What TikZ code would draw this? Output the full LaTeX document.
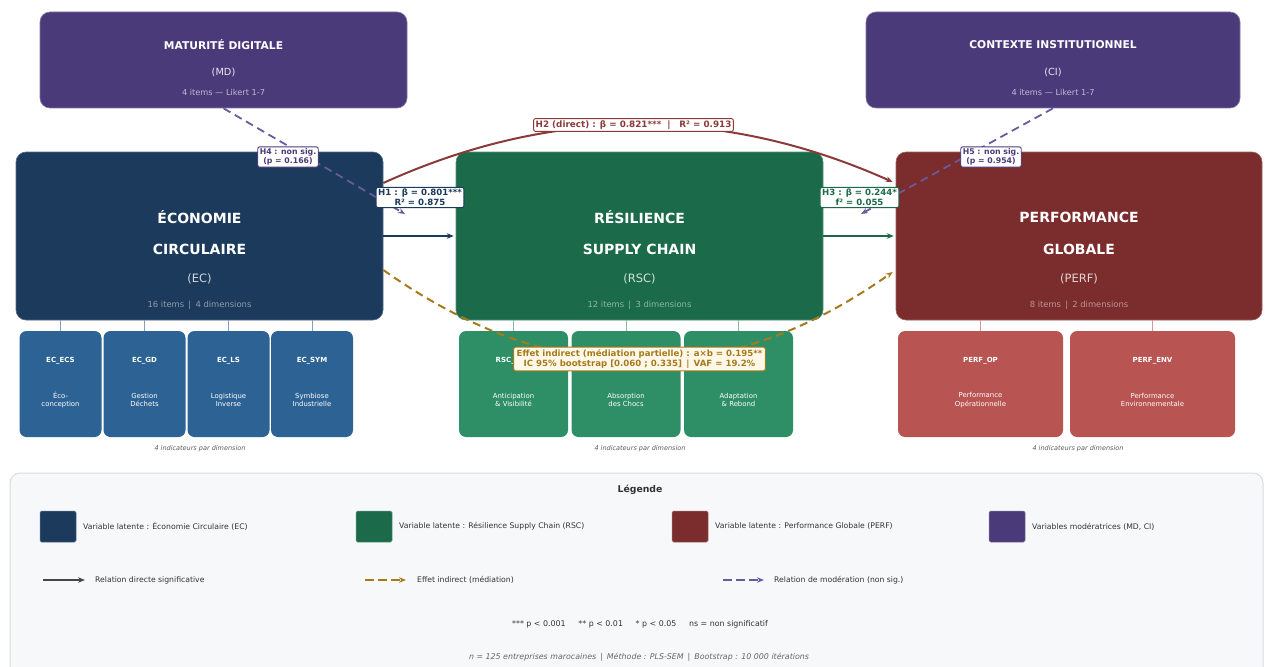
\documentclass[tikz,border=0pt]{standalone}
\usepackage{fontspec}
\setmainfont{DejaVu Sans}
\usetikzlibrary{arrows.meta,calc}
\definecolor{navy}{HTML}{1B3A5C}
\definecolor{dgreen}{HTML}{1B6B4A}
\definecolor{dred}{HTML}{7B2C2C}
\definecolor{mpurple}{HTML}{4B3A7A}
\definecolor{ecsub}{HTML}{2D6394}
\definecolor{rscsub}{HTML}{2E8F66}
\definecolor{perfsub}{HTML}{B85452}
\definecolor{gold}{HTML}{A57A1C}
\definecolor{hred}{HTML}{8B3A3A}
\definecolor{legbg}{HTML}{F7F8FA}
\definecolor{legline}{HTML}{D9DBDE}
\definecolor{txtgray}{HTML}{333333}
\definecolor{labcream}{HTML}{FFF8E8}
\definecolor{modpurple}{HTML}{6A5A9C}
\newcommand\fsz[2]{\fontsize{#1}{#2}\selectfont}
\tikzset{
  mainbox/.style={rectangle, rounded corners=10pt, minimum width=367pt, minimum height=168pt, inner sep=0pt, line width=0.6pt},
  modbox/.style={rectangle, rounded corners=10pt, minimum height=96pt, inner sep=0pt, fill=mpurple, draw=mpurple!70!white, line width=0.6pt},
  subbox/.style={rectangle, rounded corners=7pt, minimum height=106pt, inner sep=0pt},
  mtitle/.style={text=white, font=\bfseries\fsz{14}{16}},
  msub/.style={font=\fsz{11.5}{13}},
  mitems/.style={font=\fsz{8.4}{10}},
  modtitle/.style={text=white, font=\bfseries\fsz{10.7}{12}},
  modsub/.style={text=white!88!mpurple, font=\fsz{9.8}{11}},
  moditems/.style={text=white!65!mpurple, font=\fsz{8.2}{9.5}},
  subttl/.style={text=white, font=\bfseries\fsz{7}{8.5}},
  subdesc/.style={text=white!88, font=\fsz{6.9}{8.2}, align=center},
  lab/.style={rectangle, rounded corners=2pt, fill=white, line width=0.9pt, inner sep=2pt, align=center, font=\bfseries\fsz{8.6}{9.6}},
  legtxt/.style={text=txtgray, font=\fsz{7.7}{9}, anchor=west, inner sep=0pt},
  legsq/.style={rectangle, rounded corners=1.5pt, minimum width=36pt, minimum height=31pt, inner sep=0pt, line width=0.5pt},
  indic/.style={text=txtgray!80, font=\itshape\fsz{6.5}{7.5}},
  arr/.style={-{Stealth[length=7pt,width=5.5pt]}, line width=2pt},
  gdash/.style={dash pattern=on 8pt off 5pt, line width=2pt, draw=gold},
  pdash/.style={dash pattern=on 8pt off 5pt, line width=1.8pt, draw=modpurple},
}
\begin{document}
\begin{tikzpicture}[x=1pt,y=-1pt]
\useasboundingbox (0,0) rectangle (1265,666);
\clip (0,0) rectangle (1265,666);
% legend background
\draw[fill=legbg, draw=legline, line width=1pt, rounded corners=10pt] (10,473) rectangle (1263,690);
\node[font=\bfseries\fsz{9.3}{11}, text=txtgray] (legtitle) at (640,490) {Légende};
\node[legsq, fill=navy, draw=navy!70!white] (lsq1) at (58,526.5) {};
\node[legtxt] (lt1) at (83,526.5) {Variable latente : Économie Circulaire (EC)};
\node[legsq, fill=dgreen, draw=dgreen!70!white] (lsq2) at (374,526.5) {};
\node[legtxt] (lt2) at (399,526.5) {Variable latente : Résilience Supply Chain (RSC)};
\node[legsq, fill=dred, draw=dred!70!white] (lsq3) at (690,526.5) {};
\node[legtxt] (lt3) at (715,526.5) {Variable latente : Performance Globale (PERF)};
\node[legsq, fill=mpurple, draw=mpurple!70!white] (lsq4) at (1007,526.5) {};
\node[legtxt] (lt4) at (1032,526.5) {Variables modératrices (MD, CI)};
\coordinate (la1) at (43,580); \coordinate (lb1) at (85,580);
\draw[arr, draw=txtgray!90, line width=1.8pt] (la1) -- (lb1);
\node[legtxt] (lt5) at (95,580) {Relation directe significative};
\coordinate (la2) at (365,580); \coordinate (lb2) at (406,580);
\draw[arr, gdash, dash pattern=on 9pt off 4pt] (la2) -- (lb2);
\node[legtxt] (lt6) at (417,580) {Effet indirect (médiation)};
\coordinate (la3) at (723,580); \coordinate (lb3) at (764,580);
\draw[arr, pdash, dash pattern=on 9pt off 4pt] (la3) -- (lb3);
\node[legtxt] (lt7) at (774,580) {Relation de modération (non sig.)};
\node[text=txtgray, font=\fsz{7.9}{9}] (pval) at (640,624) {*** p < 0.001\hspace{1.6em}** p < 0.01\hspace{1.6em}* p < 0.05\hspace{1.6em}ns = non significatif};
\node[text=txtgray!75, font=\itshape\fsz{7.9}{9}] (note) at (639,657) {n = 125 entreprises marocaines\enspace|\enspace Méthode : PLS-SEM\enspace|\enspace Bootstrap : 10 000 itérations};

% moderator boxes
\node[modbox, minimum width=367pt] (md) at (223.5,60) {};
\node[modtitle] at (223.5,45) {MATURITÉ DIGITALE};
\node[modsub] at (223.5,72) {(MD)};
\node[moditems] at (223.5,92) {4 items — Likert 1-7};
\node[modbox, minimum width=374pt] (ci) at (1053,60) {};
\node[modtitle] at (1053,45) {CONTEXTE INSTITUTIONNEL};
\node[modsub] at (1053,72) {(CI)};
\node[moditems] at (1053,92) {4 items — Likert 1-7};

% main boxes
\node[mainbox, fill=navy, draw=navy!75!white] (ec) at (199.5,236) {};
\node[mtitle] at (199.5,217) {ÉCONOMIE};
\node[mtitle] at (199.5,249) {CIRCULAIRE};
\node[msub, text=white!80!navy] at (199.5,279) {(EC)};
\node[mitems, text=white!50!navy] at (199.5,305) {16 items\enspace|\enspace 4 dimensions};

\node[mainbox, fill=dgreen, draw=dgreen!75!white] (rsc) at (639.5,236) {};
\node[mtitle] at (639.5,217) {RÉSILIENCE};
\node[mtitle] at (639.5,249) {SUPPLY CHAIN};
\node[msub, text=white!80!dgreen] at (639.5,279) {(RSC)};
\node[mitems, text=white!50!dgreen] at (639.5,305) {12 items\enspace|\enspace 3 dimensions};

\node[mainbox, fill=dred, draw=dred!75!white, minimum width=366pt] (perf) at (1079,236) {};
\node[mtitle] at (1079,217) {PERFORMANCE};
\node[mtitle] at (1079,249) {GLOBALE};
\node[msub, text=white!80!dred] at (1079,279) {(PERF)};
\node[mitems, text=white!50!dred] at (1079,305) {8 items\enspace|\enspace 2 dimensions};

% EC sub boxes
\foreach \n/\x/\t/\d in {ec1/60.5/EC\_ECS/{Éco-\\conception}, ec2/144.5/EC\_GD/{Gestion\\Déchets}, ec3/228.5/EC\_LS/{Logistique\\Inverse}, ec4/312/EC\_SYM/{Symbiose\\Industrielle}}{
  \node[subbox, fill=ecsub, minimum width=82pt] (\n) at (\x,384) {};
  \draw[ecsub!60!white, line width=0.8pt] (\n.north) -- (\n.north |- ec.south);
  \node[subttl] at (\x,361) {\t};
  \node[subdesc] at (\x,400) {\d};
}
\node[indic] (ind1) at (200,449) {4 indicateurs par dimension};

% RSC sub boxes
\foreach \n/\x/\d in {rsc1/513.5/{Anticipation\\\& Visibilité}, rsc2/626/{Absorption\\des Chocs}, rsc3/738.5/{Adaptation\\\& Rebond}}{
  \node[subbox, fill=rscsub, minimum width=109pt] (\n) at (\x,384) {};
  \draw[rscsub!60!white, line width=0.8pt] (\n.north) -- (\n.north |- rsc.south);
  \node[subdesc] at (\x,400) {\d};
}
\node[subttl, anchor=east, inner sep=0pt] (rsct) at (515,361) {RSC\_};
\node[indic] (ind2) at (640,449) {4 indicateurs par dimension};

% PERF sub boxes
\foreach \n/\x/\t/\d in {perf1/980.5/PERF\_OP/{Performance\\Opérationnelle}, perf2/1152.5/PERF\_ENV/{Performance\\Environnementale}}{
  \node[subbox, fill=perfsub, minimum width=165pt] (\n) at (\x,384) {};
  \draw[perfsub!60!white, line width=0.8pt] (\n.north) -- (\n.north |- perf.south);
  \node[subttl] at (\x,361) {\t};
  \node[subdesc] at (\x,400) {\d};
}
\node[indic] (ind3) at (1078,449) {4 indicateurs par dimension};

% direct arrows
\draw[arr, draw=navy] (ec.east) -- ($(rsc.west)+(-2,0)$);
\draw[arr, draw=dgreen] (rsc.east) -- ($(perf.west)+(-2,0)$);
% H2 curve
\draw[arr, draw=hred] ($(ec.east)+(0,-53)$) .. controls (553,106) and (723,106) .. ($(perf.west)+(-3,-54)$);
% indirect curve
\draw[arr, gdash] ($(ec.east)+(0,34)$) .. controls (553,390) and (723,392) .. ($(perf.west)+(-3,36)$);
% moderation
\coordinate (h4t) at (405,214);
\coordinate (h5t) at (861,214);
\draw[arr, pdash] (md.south) -- (h4t);
\draw[arr, pdash] (ci.south) -- (h5t);

% labels
\node[lab, draw=navy, text=navy] (h1lab) at (420,197.5) {H1 : β = 0.801***\\R² = 0.875};
\node[lab, draw=dgreen, text=dgreen] (h3lab) at (859.5,197.5) {H3 : β = 0.244*\\f² = 0.055};
\node[lab, draw=hred, text=hred, font=\bfseries\fsz{8.8}{10}] (h2lab) at (633.5,125) {H2 (direct) : β = 0.821***\enspace\,|\enspace\, R² = 0.913};
\node[lab, draw=gold, fill=labcream, text=gold, font=\bfseries\fsz{8.6}{10.8}, inner xsep=3pt] (indlab) at (639.5,359) {Effet indirect (médiation partielle) : a×b = 0.195**\\IC 95\% bootstrap [0.060 ; 0.335]\enspace|\enspace VAF = 19.2\%};
\node[lab, draw=mpurple, text=mpurple, font=\bfseries\fsz{7.8}{8.8}] (h4lab) at (288,157) {H4 : non sig.\\(p = 0.166)};
\node[lab, draw=mpurple, text=mpurple, font=\bfseries\fsz{7.8}{8.8}] (h5lab) at (991,157) {H5 : non sig.\\(p = 0.954)};
\end{tikzpicture}
\end{document}
